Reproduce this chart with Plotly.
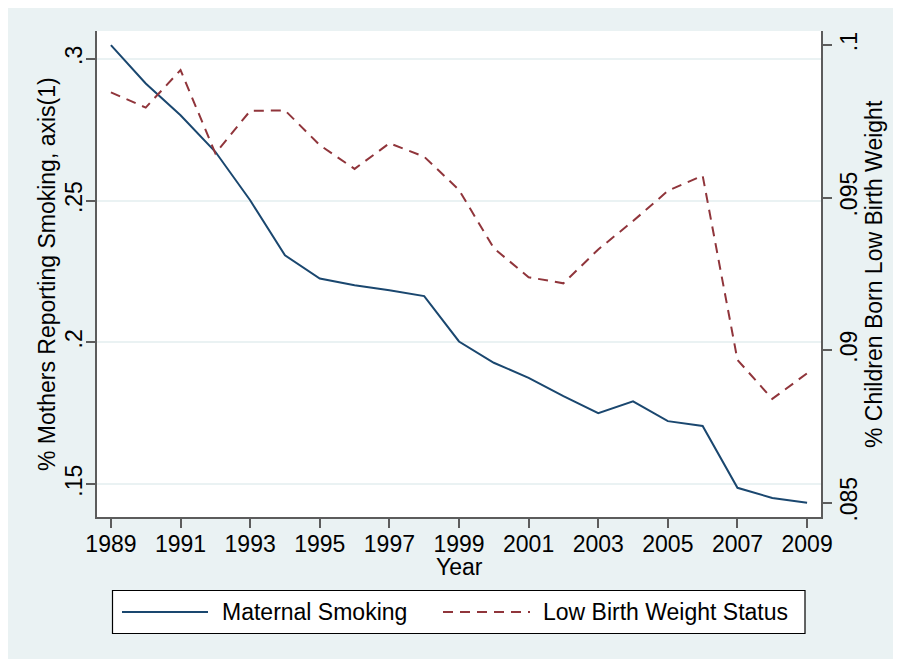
import plotly.graph_objects as go

years = list(range(1989, 2010))
maternal_smoking = [0.3048, 0.2913, 0.2801, 0.2672, 0.2501, 0.2307, 0.2225, 0.2201,
                    0.2184, 0.2163, 0.2003, 0.1928, 0.1875, 0.1810, 0.1750, 0.1792,
                    0.1722, 0.1705, 0.1487, 0.1451, 0.1434]
low_birth_weight = [0.09845, 0.09795, 0.09918, 0.09645, 0.09784, 0.09786, 0.09672, 0.09594,
                    0.09678, 0.09634, 0.09525, 0.09334, 0.09239, 0.09219, 0.09330, 0.09423,
                    0.09522, 0.09572, 0.08968, 0.08840, 0.08924]

x_ticks = list(range(1989, 2010, 2))
left_ticks = [0.15, 0.2, 0.25, 0.3]
left_labels = [".15", ".2", ".25", ".3"]
right_ticks = [0.085, 0.09, 0.095, 0.1]
right_labels = [".085", ".09", ".095", ".1"]

x_title = "Year"
left_title = "% Mothers Reporting Smoking, axis(1)"
right_title = "% Children Born Low Birth Weight"
series_names = ["Maternal Smoking", "Low Birth Weight Status"]

NAVY = "#1A476F"
MAROON = "#90353B"
BG = "#EAF2F3"
AX = "#5c5c5c"
FONT = "Liberation Sans, Arial, sans-serif"
FS = 23

fig = go.Figure()
fig.add_trace(go.Scatter(x=years, y=maternal_smoking, mode="lines", name=series_names[0],
                         line=dict(color=NAVY, width=2), yaxis="y"))
fig.add_trace(go.Scatter(x=years, y=low_birth_weight, mode="lines", name=series_names[1],
                         line=dict(color=MAROON, width=2, dash="10px,7px"), yaxis="y2"))

OFF = 8  # page offset of the figure
W, H = 901, 659
L, T = 89, 23
R = W - 813
B = H - 509
pw, ph = W - L - R, H - T - B


def px(xp):
    return (xp - OFF - L) / pw


def py(yp):
    return (H - B - (yp - OFF)) / ph


shapes = [
    dict(type="rect", xref="paper", yref="paper", x0=px(112.5), x1=px(805), y0=py(633.5), y1=py(590.5),
         fillcolor="white", line=dict(color="black", width=1.2)),
    dict(type="line", xref="paper", yref="paper", x0=px(122), x1=px(208), y0=py(612), y1=py(612),
         line=dict(color=NAVY, width=2)),
    dict(type="line", xref="paper", yref="paper", x0=px(443), x1=px(530), y0=py(612), y1=py(612),
         line=dict(color=MAROON, width=2, dash="10px,7px")),
]

txt = dict(family=FONT, size=FS, color="black")
annotations = [
    dict(text=series_names[0], xref="paper", yref="paper", x=px(220), y=py(612),
         xanchor="left", yanchor="middle", showarrow=False, font=txt),
    dict(text=series_names[1], xref="paper", yref="paper", x=px(541), y=py(612),
         xanchor="left", yanchor="middle", showarrow=False, font=txt),
    dict(text=x_title, xref="paper", yref="paper", x=0.5, y=py(567),
         xanchor="center", yanchor="middle", showarrow=False, font=txt),
    dict(text=left_title, xref="paper", yref="paper", x=px(47), y=0.5, textangle=-90,
         xanchor="center", yanchor="middle", showarrow=False, font=txt),
    dict(text=right_title, xref="paper", yref="paper", x=px(874), y=0.5, textangle=-90,
         xanchor="center", yanchor="middle", showarrow=False, font=txt),
]

fig.update_layout(
    width=W, height=H,
    margin=dict(l=L, r=R, t=T, b=B, pad=0),
    paper_bgcolor=BG, plot_bgcolor="white",
    showlegend=False,
    font=txt,
    shapes=shapes, annotations=annotations,
    xaxis=dict(range=[1988.6, 2009.4], tickvals=x_ticks, ticks="outside", ticklen=9, tickwidth=1.5,
               tickcolor=AX, showline=True, linecolor=AX, linewidth=1.5, showgrid=False, zeroline=False,
               tickfont=dict(size=FS), ticklabelstandoff=-3),
    yaxis=dict(range=[0.1384, 0.3098], tickvals=left_ticks, ticktext=left_labels, tickangle=-90,
               ticks="outside", ticklen=9, tickwidth=1.5, tickcolor=AX, showline=True, linecolor=AX,
               linewidth=1.5, showgrid=True, gridcolor=BG, gridwidth=2, zeroline=False,
               tickfont=dict(size=FS), ticklabelstandoff=-5),
    yaxis2=dict(range=[0.08453, 0.10046], tickvals=right_ticks, ticktext=right_labels, tickangle=-90,
                overlaying="y", side="right", ticks="outside", ticklen=9, tickwidth=1.5, tickcolor=AX,
                showline=True, linecolor=AX, linewidth=1.5, showgrid=False, zeroline=False,
                tickfont=dict(size=FS), ticklabelstandoff=-2),
)

fig.write_html("out.html")
